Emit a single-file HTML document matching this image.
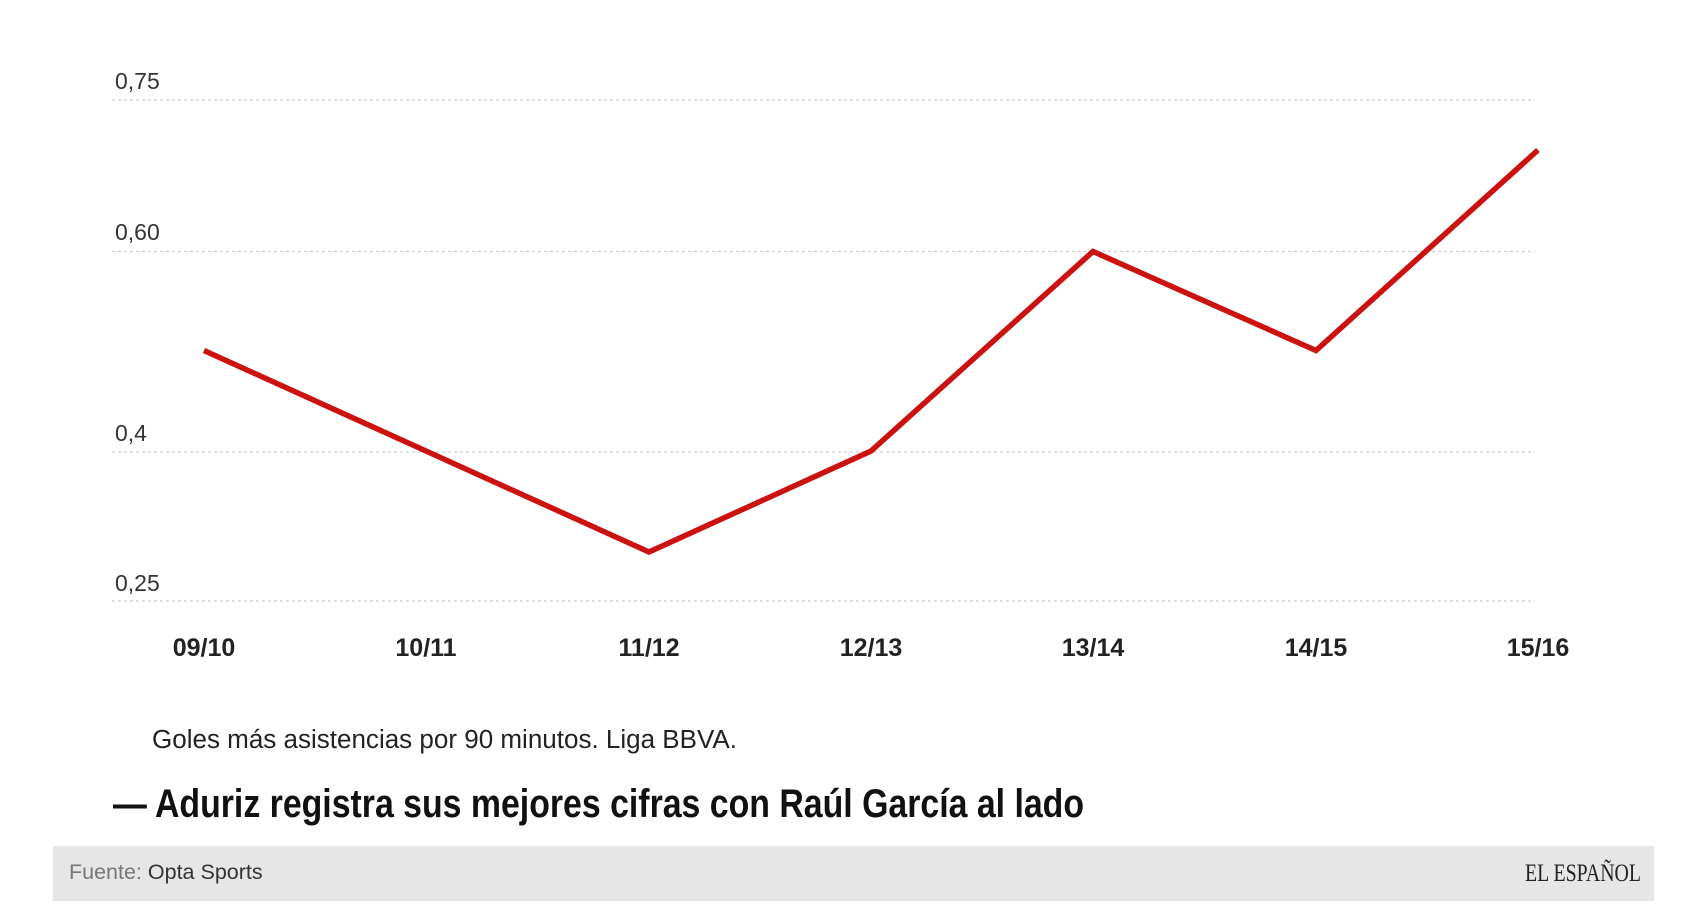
<!DOCTYPE html>
<html><head><meta charset="utf-8"><style>
html,body{margin:0;padding:0;background:#fff;width:1706px;height:905px;overflow:hidden}
svg{display:block}
</style></head><body>
<svg width="1706" height="905" viewBox="0 0 1706 905" xmlns="http://www.w3.org/2000/svg">
<g stroke="#cfcfcf" stroke-width="1.3" stroke-dasharray="3,3">
<line x1="112" y1="100" x2="1535" y2="100"/>
<line x1="112" y1="251.5" x2="1535" y2="251.5"/>
<line x1="112" y1="452" x2="1535" y2="452"/>
<line x1="112" y1="601" x2="1535" y2="601"/>
</g>
<g font-family="Liberation Sans, sans-serif" font-size="23" fill="#333">
<text x="115" y="89">0,75</text>
<text x="115" y="240">0,60</text>
<text x="115" y="441">0,4</text>
<text x="115" y="591">0,25</text>
</g>
<polyline points="204,350.5 426,451 649,552 871,451 1093,251.5 1316,350.5 1538,150" fill="none" stroke="#cc1111" stroke-width="5.5" stroke-linejoin="miter"/>
<g font-family="Liberation Sans, sans-serif" font-size="25" font-weight="bold" fill="#222" text-anchor="middle">
<text x="204" y="656">09/10</text>
<text x="426" y="656">10/11</text>
<text x="649" y="656">11/12</text>
<text x="871" y="656">12/13</text>
<text x="1093" y="656">13/14</text>
<text x="1316" y="656">14/15</text>
<text x="1538" y="656">15/16</text>
</g>
<text x="152" y="748" font-family="Liberation Sans, sans-serif" font-size="25.5" fill="#222" textLength="585" lengthAdjust="spacingAndGlyphs">Goles más asistencias por 90 minutos. Liga BBVA.</text>
<text x="113" y="817" font-family="Liberation Sans Narrow, Liberation Sans, sans-serif" font-size="40" font-weight="bold" fill="#111" textLength="971" lengthAdjust="spacingAndGlyphs">— Aduriz registra sus mejores cifras con Raúl García al lado</text>
<rect x="53" y="846" width="1601" height="55" fill="#e6e6e6"/>
<text x="69" y="879" font-family="Liberation Sans, sans-serif" font-size="21.5" fill="#777">Fuente: <tspan fill="#333">Opta Sports</tspan></text>
<text x="1641" y="881" text-anchor="end" font-family="Liberation Serif, serif" font-size="25" fill="#222" textLength="116" lengthAdjust="spacingAndGlyphs">EL ESPAÑOL</text>
</svg>
</body></html>
